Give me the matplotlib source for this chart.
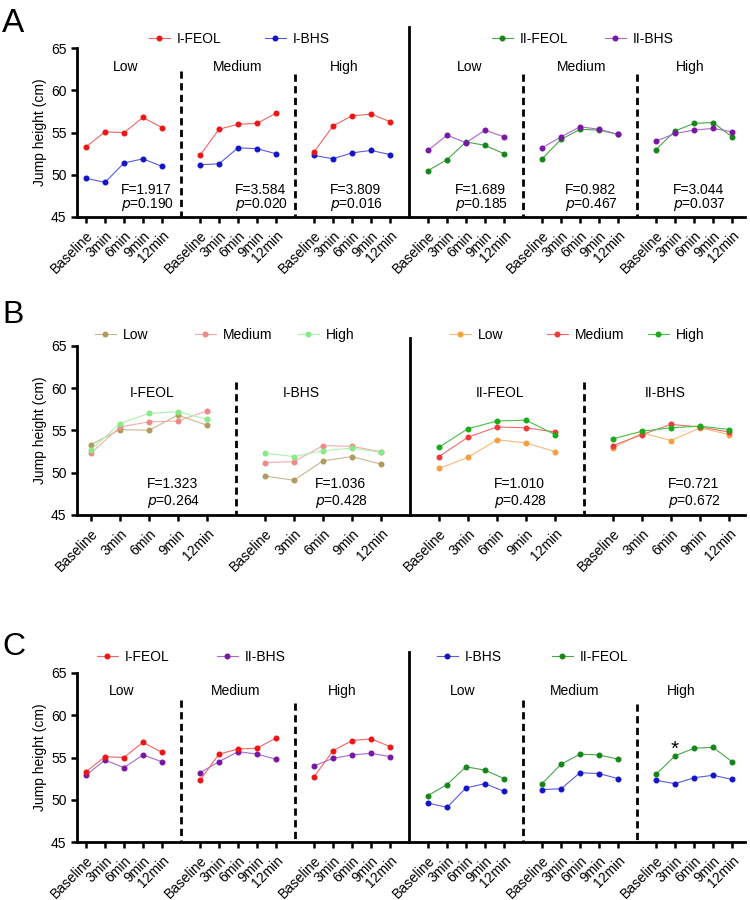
import numpy as np
import matplotlib
matplotlib.use("Agg")
import matplotlib.pyplot as plt
from matplotlib.lines import Line2D

plt.rcParams['font.family'] = ['Liberation Sans', 'DejaVu Sans']

# ---------------- data ----------------
timepoints = ["Baseline", "3min", "6min", "9min", "12min"]
intensities = ["Low", "Medium", "High"]

i_feol_low = [53.3, 55.1, 55.0, 56.8, 55.6]
i_feol_medium = [52.3, 55.4, 56.0, 56.1, 57.3]
i_feol_high = [52.7, 55.8, 57.0, 57.2, 56.3]
i_bhs_low = [49.6, 49.1, 51.4, 51.9, 51.0]
i_bhs_medium = [51.2, 51.3, 53.2, 53.1, 52.5]
i_bhs_high = [52.3, 51.9, 52.6, 52.9, 52.4]
ii_feol_low = [50.5, 51.8, 53.9, 53.5, 52.5]
ii_feol_medium = [51.9, 54.2, 55.4, 55.3, 54.8]
ii_feol_high = [53.0, 55.2, 56.1, 56.2, 54.5]
ii_bhs_low = [52.9, 54.7, 53.8, 55.3, 54.5]
ii_bhs_medium = [53.2, 54.5, 55.7, 55.4, 54.8]
ii_bhs_high = [54.0, 54.9, 55.3, 55.5, 55.1]

stats_a_f = ["F=1.917", "F=3.584", "F=3.809", "F=1.689", "F=0.982", "F=3.044"]
stats_a_p = ["0.190", "0.020", "0.016", "0.185", "0.467", "0.037"]
stats_b_f = ["F=1.323", "F=1.036", "F=1.010", "F=0.721"]
stats_b_p = ["0.264", "0.428", "0.428", "0.672"]
groups_b = ["I-FEOL", "I-BHS", "II-FEOL", "II-BHS"]

# ---------------- styles ----------------
C_IFEOL = ("#f26464", "#ee1515")
C_IBHS = ("#5a5ae0", "#1414c8")
C_IIFEOL = ("#45a845", "#17861a")
C_IIBHS = ("#a869cc", "#7a16a6")
C_B_LEFT = {"Low": ("#c9b88c", "#b09a5e"), "Medium": ("#f4abab", "#f08888"),
            "High": ("#acf2ac", "#86ea86")}
C_B_RIGHT = {"Low": ("#f8bb78", "#f5a040"), "Medium": ("#f26a6a", "#ee3a3a"),
             "High": ("#44c044", "#1aaa1a")}

W, H = 750, 900
FS = 10
MS = 3.3
LW = 0.8

fig = plt.figure(figsize=(7.5, 9), dpi=100)


def fx(px):
    return px / W


def fy(py):
    return 1 - py / H


def make_axes(top_px, bottom_px, ngroups, xmin, xmax):
    ax = fig.add_axes([fx(77), fy(bottom_px), fx(745) - fx(77), fy(top_px) - fy(bottom_px)])
    ax.set_ylim(45, 65)
    ax.set_xlim(xmin, xmax)
    ax.set_yticks([45, 50, 55, 60, 65])
    pos = np.concatenate([g * 6 + np.arange(5) for g in range(ngroups)])
    ax.set_xticks(pos)
    ax.set_xticklabels(timepoints * ngroups, rotation=45, ha='right',
                       rotation_mode='anchor', fontsize=FS)
    for s in ['top', 'right']:
        ax.spines[s].set_visible(False)
    for s in ['left', 'bottom']:
        ax.spines[s].set_linewidth(2.0)
    ax.tick_params(axis='both', width=1.8, length=4.5, labelsize=FS, pad=3)
    ax.tick_params(axis='x', pad=4)
    ax.set_ylabel("Jump height (cm)", fontsize=FS)
    ax.yaxis.set_label_coords(-0.045, 0.5)
    return ax


def series(ax, group, vals, colors):
    x = group * 6 + np.arange(len(vals))
    ax.plot(x, vals, color=colors[0], lw=LW, marker='o', ms=MS,
            mfc=colors[1], mec=colors[1], zorder=3, clip_on=False)


def vline(ax, x, ytop, dashed):
    if dashed:
        ax.plot([x, x], [ytop, 45], color='black', lw=2.0, ls=(0, (2.6, 1.6)),
                clip_on=False, zorder=2)
    else:
        ax.plot([x, x], [ytop, 45], color='black', lw=2.0, clip_on=False, zorder=2)


def legend_entry(x_px, y_px, label, colors):
    h = Line2D([], [], color=colors[0], lw=LW, marker='o', ms=MS,
               mfc=colors[1], mec=colors[1])
    fig.legend(handles=[h], labels=[label], loc='center left',
               bbox_to_anchor=(fx(x_px), fy(y_px)), frameon=False,
               borderpad=0, borderaxespad=0, handlelength=1.5,
               handletextpad=0.5, fontsize=FS)


# ---------------- Panel A ----------------
axA = make_axes(48.3, 217, 6, -0.47, 34.68)
a_I_feol = [i_feol_low, i_feol_medium, i_feol_high]
a_I_bhs = [i_bhs_low, i_bhs_medium, i_bhs_high]
a_II_feol = [ii_feol_low, ii_feol_medium, ii_feol_high]
a_II_bhs = [ii_bhs_low, ii_bhs_medium, ii_bhs_high]
for g in range(3):
    series(axA, g, a_I_bhs[g], C_IBHS)
    series(axA, g, a_I_feol[g], C_IFEOL)
    series(axA, g + 3, a_II_feol[g], C_IIFEOL)
    series(axA, g + 3, a_II_bhs[g], C_IIBHS)
vline(axA, 17, 67.5, False)
for x, yt in zip([5, 11, 23, 29], [62.3, 62.0, 62.0, 62.0]):
    vline(axA, x, yt, True)
for lab, x in zip(intensities * 2, [2.1, 8.0, 13.6, 20.2, 26.1, 31.8]):
    axA.text(x, 62.8, lab, ha='center', va='center', fontsize=FS)
for i, x in enumerate([1.84, 7.84, 12.84, 19.4, 25.2, 30.9]):
    axA.text(x, 48.25, stats_a_f[i], ha='left', va='center', fontsize=FS)
    axA.text(x, 46.5, r"$\it{p}$=" + stats_a_p[i], ha='left', va='center', fontsize=FS)
legend_entry(149, 39, "I-FEOL", C_IFEOL)
legend_entry(265, 39, "I-BHS", C_IBHS)
legend_entry(492, 39, "II-FEOL", C_IIFEOL)
legend_entry(605, 39, "II-BHS", C_IIBHS)

# ---------------- Panel B ----------------
axB = make_axes(345.7, 515, 4, -0.48, 22.55)
b_left = {"Low": [i_feol_low, i_bhs_low], "Medium": [i_feol_medium, i_bhs_medium],
          "High": [i_feol_high, i_bhs_high]}
b_right = {"Low": [ii_feol_low, ii_bhs_low], "Medium": [ii_feol_medium, ii_bhs_medium],
           "High": [ii_feol_high, ii_bhs_high]}
for lev in intensities:
    series(axB, 0, b_left[lev][0], C_B_LEFT[lev])
    series(axB, 1, b_left[lev][1], C_B_LEFT[lev])
    series(axB, 2, b_right[lev][0], C_B_RIGHT[lev])
    series(axB, 3, b_right[lev][1], C_B_RIGHT[lev])
vline(axB, 11, 65.9, False)
vline(axB, 5, 60.7, True)
vline(axB, 17, 60.7, True)
for lab, x in zip(groups_b, [2.1, 7.24, 14.1, 19.8]):
    axB.text(x, 59.4, lab, ha='center', va='center', fontsize=FS)
for i, x in enumerate([1.93, 7.72, 13.9, 19.9]):
    axB.text(x, 48.7, stats_b_f[i], ha='left', va='center', fontsize=FS)
    axB.text(x, 46.6, r"$\it{p}$=" + stats_b_p[i], ha='left', va='center', fontsize=FS)
legend_entry(95, 335, "Low", C_B_LEFT["Low"])
legend_entry(195, 335, "Medium", C_B_LEFT["Medium"])
legend_entry(298, 335, "High", C_B_LEFT["High"])
legend_entry(450, 335, "Low", C_B_RIGHT["Low"])
legend_entry(547, 335, "Medium", C_B_RIGHT["Medium"])
legend_entry(648, 335, "High", C_B_RIGHT["High"])

# ---------------- Panel C ----------------
axC = make_axes(673, 842, 6, -0.47, 34.68)
for g in range(3):
    series(axC, g, a_II_bhs[g], C_IIBHS)
    series(axC, g, a_I_feol[g], C_IFEOL)
    series(axC, g + 3, a_I_bhs[g], C_IBHS)
    series(axC, g + 3, a_II_feol[g], C_IIFEOL)
vline(axC, 17, 67.5, False)
for x, yt in zip([5, 11, 23, 29], [61.8, 61.4, 61.8, 61.3]):
    vline(axC, x, yt, True)
for lab, x in zip(intensities * 2, [1.9, 7.9, 13.5, 19.8, 25.7, 31.3]):
    axC.text(x, 62.9, lab, ha='center', va='center', fontsize=FS)
axC.text(31, 56.0, "*", ha='center', va='center', fontsize=15)
legend_entry(97, 657, "I-FEOL", C_IFEOL)
legend_entry(217, 657, "II-BHS", C_IIBHS)
legend_entry(437, 657, "I-BHS", C_IBHS)
legend_entry(552, 657, "II-FEOL", C_IIFEOL)

# panel letters
fig.text(fx(2), fy(32), "A", fontsize=24, va='baseline', ha='left')
fig.text(fx(2), fy(323), "B", fontsize=23, va='baseline', ha='left')
fig.text(fx(2), fy(655), "C", fontsize=23, va='baseline', ha='left')

fig.savefig("out.png", dpi=100)
